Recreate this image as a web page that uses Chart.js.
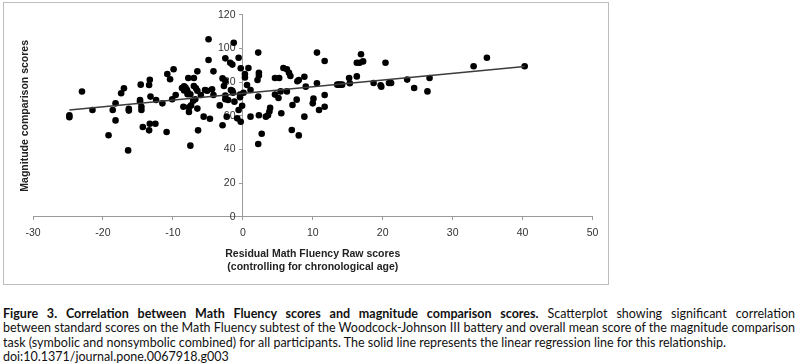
<!DOCTYPE html>
<html>
<head>
<meta charset="utf-8">
<script src="https://cdn.jsdelivr.net/npm/chart.js@4.4.1/dist/chart.umd.min.js"></script>
<style>
  body { margin: 0; background: #fff; width: 797px; height: 364px; overflow: hidden; position: relative; }
  #box { position: absolute; left: 3px; top: 2px; width: 606px; height: 283px; border: 1px solid #bdbdbd; box-sizing: border-box; }
  #caption { position: absolute; left: 3px; top: 307px; width: 792px; font-family: Lato, "Liberation Sans", sans-serif; color: #111; line-height: 14.3px; }
  #caption div { white-space: nowrap; }
  #caption .j { text-align: justify; text-align-last: justify; }
</style>
</head>
<body>
<div id="box"><canvas id="scatterChart"></canvas></div>
<div id="caption">
  <div class="j"><b>Figure 3. Correlation between Math Fluency scores and magnitude comparison scores.</b> Scatterplot showing significant correlation</div>
  <div class="j">between standard scores on the Math Fluency subtest of the Woodcock-Johnson III battery and overall mean score of the magnitude comparison</div>
  <div id="line3">task (symbolic and nonsymbolic combined) for all participants. The solid line represents the linear regression line for this relationship.</div>
  <div>doi:10.1371/journal.pone.0067918.g003</div>
</div>
<script>
// Residual Math Fluency (x) vs magnitude comparison score (y)
const fluency = [
  -24.8, -24.8, -23.0, -21.5, -19.2, -18.6, -18.2, -18.2, -17.4, -17.0,
  -16.4, -16.3, -16.3, -14.6, -14.7, -14.7, -14.5, -14.5, -14.3, -13.4,
  -13.3, -13.2, -13.3, -13.4, -12.5, -12.4, -11.5, -10.9,
  -10.8, -10.4, -9.9, -10.1, -9.6, -8.7, -8.4, -8.2, -8.0, -8.4, -7.9,
  -7.8, -7.0, -6.5, -7.9, -7.5, -7.0, -6.7, -6.5, -6.8, -7.1,
  -8.5, -7.7, -7.4, -7.7, -6.5, -7.5, -6.4, -6.0, -5.6, -5.4,
  -4.9, -4.9, -4.7, -5.1, -4.2, -4.4, -4.2, -3.3, -2.9, -2.9,
  -2.5, -2.5, -2.5, -2.5, -2.7, -2.1, -1.8, -1.5, -1.3, -1.7,
  -1.5, -1.4, -1.2, -2.3, -0.8, -0.6, -0.6, -0.4, -0.4, -0.3, -0.3, -0.1,
  0.3, 0.3, 0.8, 0.6, 1.1, 0.1, 1.1,
  2.2, 2.3, 2.3, 2.1, 2.2, 2.3, 2.7, 2.2, 3.3, 3.6, 3.8, 3.9,
  4.6, 5.2, 4.6, 5.1, 5.4, 5.5, 5.8, 6.3, 6.6, 6.8, 6.3, 7.1, 7.0,
  7.7, 7.8, 8.0, 8.0, 8.8, 9.0, 8.8, 10.0, 10.1, 10.6, 10.6, 10.9,
  11.7, 11.7, 11.7, 13.5, 13.7, 14.0, 14.2, 15.2, 15.3, 16.3,
  16.3, 16.7, 17.2, 16.9, 18.7, 19.7, 19.8, 20.4, 20.9, 21.2,
  23.5, 24.5, 26.4, 26.7, 33.0, 34.9, 40.3
];
const magnitude = [
  60.3, 59.2, 74.4, 63.5, 48.5, 63.5, 67.4, 57.3, 73.4, 76.3,
  39.5, 64.1, 63.1, 78.5, 69.4, 68.4, 65.4, 63.5, 53.4, 78.3,
  81.4, 71.4, 55.3, 51.4, 55.3, 69.4, 67.4, 50.4,
  84.8, 81.7, 87.6, 69.8, 72.4, 76.5, 77.5, 76.8, 75.5, 75.0, 74.3,
  82.4, 82.4, 86.4, 72.8, 72.8, 77.7, 76.3, 74.9, 69.8, 69.0,
  65.4, 65.0, 66.2, 62.3, 64.3, 42.3, 51.4, 72.4, 59.5, 75.3,
  105.4, 93.1, 58.3, 74.9, 86.4, 75.7, 72.4, 66.2, 54.4, 82.2,
  80.7, 94.1, 72.0, 69.8, 77.7, 69.4, 91.5, 90.4, 103.4, 75.3,
  74.9, 73.7, 68.4, 59.5, 58.5, 94.5, 63.5, 71.0, 72.6, 56.5, 88.2, 66.0,
  84.8, 82.8, 88.4, 78.3, 75.3, 73.7, 59.5,
  97.5, 85.6, 84.0, 81.3, 71.4, 60.3, 49.4, 43.3, 59.5, 60.3, 62.5, 64.7,
  82.4, 82.4, 72.6, 70.6, 74.5, 61.5, 88.4, 87.6, 85.6, 83.6, 74.5, 66.4, 51.6,
  69.6, 80.5, 81.3, 48.4, 83.2, 77.3, 59.5, 67.4, 70.2, 97.5, 79.3, 63.5,
  92.5, 72.4, 65.4, 78.5, 78.5, 78.5, 78.5, 82.4, 79.3, 83.4,
  91.5, 91.5, 92.3, 96.5, 79.5, 78.1, 77.3, 91.5, 79.5, 79.5,
  81.5, 76.5, 74.5, 82.4, 89.4, 94.5, 89.4
];

// regression line end points
const regressionX = [-24.8, 40.3];
const regressionY = [63.4, 89.3];

const xTitle = ['Residual Math Fluency Raw scores', '(controlling for chronological age)'];
const yTitle = 'Magnitude comparison scores';

// caption: fit font size so the last full line matches the picture width
(function fitCaption() {
    const probe = document.createElement('canvas').getContext('2d');
    probe.font = '12px Lato, "Liberation Sans", sans-serif';
    const w = probe.measureText(document.getElementById('line3').textContent).width;
    document.getElementById('caption').style.fontSize = (12 * 725 / w).toFixed(2) + 'px';
})();

const points = fluency.map((x, i) => ({ x: x, y: magnitude[i] }));
const regression = regressionX.map((x, i) => ({ x: x, y: regressionY[i] }));

const axisGray = '#9a9a9a';
const tickFont = { family: '"Liberation Sans", Arial, sans-serif', size: 10.5 };
const titleFont = { family: '"Liberation Sans", Arial, sans-serif', size: 10.5, weight: 'bold', lineHeight: 1.24 };

new Chart(document.getElementById('scatterChart').getContext('2d'), {
    type: 'scatter',
    data: {
        datasets: [
            {
                type: 'line',
                data: regression,
                borderColor: '#3c3c3c',
                borderWidth: 1.5,
                pointRadius: 0,
                fill: false
            },
            {
                data: points,
                backgroundColor: '#000',
                borderWidth: 0,
                pointRadius: 3.3
            }
        ]
    },
    options: {
        responsive: true,
        maintainAspectRatio: false,
        animation: false,
        layout: { padding: { left: 13.5, right: 15.5, top: 11.7, bottom: 6.5 } },
        plugins: { legend: { display: false }, tooltip: { enabled: false } },
        scales: {
            x: {
                type: 'linear',
                position: 'bottom',
                min: -30,
                max: 50,
                grid: { drawOnChartArea: false, drawTicks: true, tickLength: 3, color: axisGray },
                border: { color: axisGray, width: 1 },
                ticks: { stepSize: 10, padding: 6.7, color: '#333', font: tickFont, maxRotation: 0 },
                title: { display: true, text: xTitle, color: '#222', font: titleFont, padding: { top: 1.5, bottom: 4 } }
            },
            y: {
                type: 'linear',
                position: { x: 0 },
                min: 0,
                max: 120,
                grid: { drawOnChartArea: false, drawTicks: true, tickLength: 3, color: axisGray },
                border: { color: axisGray, width: 1 },
                ticks: {
                    stepSize: 20,
                    color: '#333',
                    font: tickFont,
                    // labels of an axis placed at x = 0 end on the axis line; pad them with spaces
                    callback: value => value + '\u2002\u2009'
                }
            },
            yTitleAxis: {
                type: 'linear',
                axis: 'y',
                position: 'left',
                min: 0,
                max: 120,
                grid: { display: false, drawTicks: false },
                border: { display: false },
                ticks: { display: false },
                title: { display: true, text: yTitle, color: '#222', font: titleFont, padding: { top: 1, bottom: 1.5 } }
            }
        }
    }
});
</script>
</body>
</html>
